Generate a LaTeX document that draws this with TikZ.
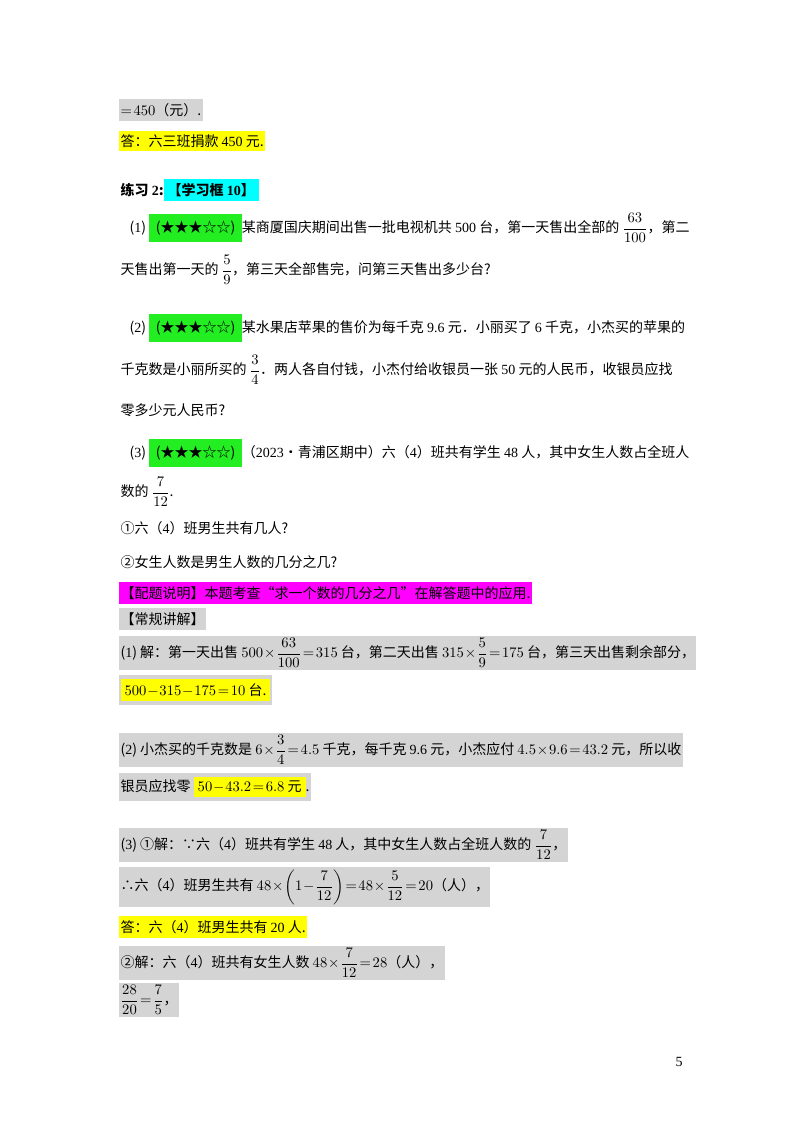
\documentclass[tikz,border=0pt]{standalone}
\usepackage{amsmath}
\usepackage{fontspec}
\setmainfont{Noto Sans CJK SC}
\newfontfamily\tm{Liberation Serif}
\definecolor{hlgray}{HTML}{D4D4D4}
\definecolor{hlyellow}{HTML}{FFFF00}
\definecolor{hlgreen}{HTML}{22EE22}
\definecolor{hlcyan}{HTML}{00FFFF}
\definecolor{hlmag}{HTML}{FF00FF}
\newcommand{\hl}[2]{{\setlength{\fboxsep}{3pt}\colorbox{#1}{#2}}}
\newcommand{\hg}[1]{{\setlength{\fboxsep}{5pt}\colorbox{hlgreen}{#1}}}
\newcommand{\n}[1]{{\tm #1}}
\medmuskip=1mu plus 1mu
\thickmuskip=2mu plus 1mu
\tikzset{ln/.style={anchor=west,inner xsep=1pt,inner ysep=3pt,font=\fontsize{10.5}{12}\selectfont},
 gray/.style={ln,fill=hlgray},
 yel/.style={ln,fill=hlyellow}}
\begin{document}
\begin{tikzpicture}[x=0.75pt,y=-0.75pt]
\useasboundingbox[fill=white] (0,0) rectangle (800,1132);
\node[gray] (l1) at (119,110) {$=450$（元）.};
\node[yel] (l2) at (119,141) {答：六三班捐款 \n{450} 元.};
\node[ln] (l3) at (119,190) {\textbf{练习 \n{2}:}\hl{hlcyan}{\textbf{【学习框 \n{10}】}}};
\node[ln] (l4) at (128,228) {(\n{1}) \hg{(★★★☆☆)}某商厦国庆期间出售一批电视机共 \n{500} 台，第一天售出全部的 $\dfrac{63}{100}$，第二};
\node[ln] (l5) at (119,270) {天售出第一天的 $\dfrac{5}{9}$，第三天全部售完，问第三天售出多少台?};
\node[ln] (l6) at (128,328) {(\n{2}) \hg{(★★★☆☆)}某水果店苹果的售价为每千克 \n{9.6} 元．小丽买了 \n{6} 千克，小杰买的苹果的};
\node[ln] (l7) at (119,370) {千克数是小丽所买的 $\dfrac{3}{4}$．两人各自付钱，小杰付给收银员一张 \n{50} 元的人民币，收银员应找};
\node[ln] (l8) at (119,410) {零多少元人民币?};
\node[ln] (l9) at (128,453) {(\n{3}) \hg{(★★★☆☆)}（\n{2023}•青浦区期中）六（\n{4}）班共有学生 \n{48} 人，其中女生人数占全班人};
\node[ln] (l10) at (119,492) {数的 $\dfrac{7}{12}$.};
\node[ln] (l11) at (119,528) {①六（\n{4}）班男生共有几人?};
\node[ln] (l12) at (119,562) {②女生人数是男生人数的几分之几?};
\node[ln,fill=hlmag] (l13) at (119,593) {【配题说明】本题考查“求一个数的几分之几”在解答题中的应用.};
\node[gray] (l14) at (119,619) {【常规讲解】};
\node[gray,inner ysep=2pt] (l15) at (119,653) {(\n{1}) 解：第一天出售 $500\times\dfrac{63}{100}=315$ 台，第二天出售 $315\times\dfrac{5}{9}=175$ 台，第三天出售剩余部分，};
\node[gray] (l16) at (119,690) {\hl{hlyellow}{$500-315-175=10$ 台.}\hspace{6pt}};
\node[gray,inner ysep=2pt] (l17) at (119,750) {(\n{2}) 小杰买的千克数是 $6\times\dfrac{3}{4}=4.5$ 千克，每千克 \n{9.6} 元，小杰应付 $4.5\times9.6=43.2$ 元，所以收};
\node[gray] (l18) at (119,787) {银员应找零 \hl{hlyellow}{$50-43.2=6.8$ 元}.\hspace{4pt}};
\node[gray,inner ysep=2pt] (l19) at (119,845) {(\n{3}) ①解：∵六（\n{4}）班共有学生 \n{48} 人，其中女生人数占全班人数的 $\dfrac{7}{12}$，};
\node[gray,inner ysep=2pt] (l20) at (119,887) {∴六（\n{4}）班男生共有 $48\times\left(1-\dfrac{7}{12}\right)=48\times\dfrac{5}{12}=20$（人），};
\node[yel] (l21) at (119,927) {答：六（\n{4}）班男生共有 \n{20} 人.};
\node[gray,inner ysep=2pt] (l22) at (119,963) {②解：六（\n{4}）班共有女生人数 $48\times\dfrac{7}{12}=28$（人），};
\node[gray,inner ysep=2pt] (l23) at (119,1000) {$\dfrac{28}{20}=\dfrac{7}{5}$，};
\node[ln] (pg) at (674,1062) {\n{5}};
\end{tikzpicture}
\end{document}
